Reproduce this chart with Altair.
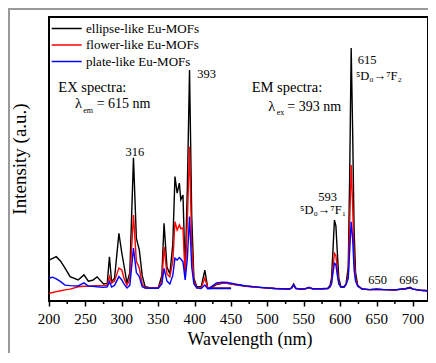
import altair as alt
import pandas as pd

FONT = "Liberation Serif"

SAMPLES = ["ellipse-like Eu-MOFs", "flower-like Eu-MOFs", "plate-like Eu-MOFs"]
COLORS = ["#000000", "#ff0000", "#0000ff"]

# Excitation spectra (lambda_em = 615 nm)
EX_NM = [200, 205, 210, 216, 222, 229, 240, 248, 254, 260,
         266, 275, 280, 283, 286, 290, 296, 300, 303, 307,
         311, 316, 320, 324, 328, 332, 340, 350, 355, 358,
         362, 366, 370, 373, 376, 379, 381, 384, 387, 390,
         393, 396, 399, 403, 409, 414, 418, 425, 435, 450]
EX_ELLIPSE = [14.4, 15.0, 15.6, 14.0, 11.6, 8.6, 7.4, 9.2, 7.0, 7.3,
              8.5, 6.0, 6.2, 15.6, 6.8, 8.0, 23.8, 16.9, 12.5, 6.3,
              10.0, 50.4, 22.0, 18.0, 9.0, 5.0, 4.6, 4.6, 9.0, 27.4,
              12.0, 9.5, 20.0, 43.8, 38.0, 41.5, 35.6, 37.3, 9.9, 40.0,
              81.3, 30.0, 8.0, 5.0, 5.0, 10.9, 4.6, 4.5, 4.5, 4.5]
EX_FLOWER = [2.7, 3.0, 3.3, 3.6, 3.9, 4.2, 5.0, 5.2, 5.2, 5.3,
             5.4, 5.4, 5.6, 8.6, 6.3, 7.0, 11.6, 10.9, 8.0, 5.6,
             7.5, 30.3, 14.0, 11.6, 6.0, 4.6, 4.6, 4.6, 7.0, 19.1,
             9.5, 8.5, 14.0, 27.9, 25.0, 26.8, 25.5, 25.7, 8.6, 28.0,
             54.3, 20.0, 7.0, 4.6, 4.6, 8.1, 4.6, 4.5, 4.5, 4.5]
EX_PLATE = [8.0, 8.4, 7.8, 6.8, 5.6, 5.4, 5.3, 6.4, 5.3, 5.2,
            5.0, 4.8, 5.0, 6.8, 4.9, 5.5, 8.6, 7.4, 6.0, 4.6,
            5.5, 18.6, 10.0, 8.6, 5.0, 4.6, 4.5, 4.5, 6.0, 11.5,
            7.0, 6.0, 9.0, 15.1, 14.4, 15.3, 14.8, 13.8, 7.4, 15.0,
            29.7, 12.0, 6.0, 4.6, 4.4, 5.6, 4.3, 4.4, 4.4, 4.4]

# Emission spectra (lambda_ex = 393 nm)
EM_NM = [420, 425, 430, 438, 445, 455, 470, 490, 510, 530,
         533, 536, 539, 545, 552, 557, 562, 575, 583, 586,
         588, 590, 592, 594, 596, 598, 601, 605, 608, 611,
         613, 615, 617, 619, 621, 624, 630, 640, 650, 660,
         675, 686, 690, 696, 700, 710, 720]
EM_ELLIPSE = [4.4, 5.0, 5.8, 6.2, 6.2, 5.8, 5.3, 4.8, 4.4, 4.2,
              4.6, 6.0, 4.5, 4.2, 4.3, 4.8, 4.3, 4.3, 4.5, 5.5,
              8.0, 18.0, 28.5, 26.5, 17.0, 8.0, 5.0, 5.0, 6.0, 12.0,
              45.0, 89.1, 60.0, 25.0, 10.0, 5.5, 4.2, 4.0, 4.2, 4.0,
              3.9, 4.3, 4.4, 4.8, 4.2, 3.8, 3.6]
EM_FLOWER = [4.6, 5.2, 6.0, 6.3, 6.2, 5.8, 5.2, 4.7, 4.4, 4.2,
             4.5, 5.6, 4.4, 4.2, 4.3, 4.7, 4.3, 4.3, 4.4, 5.0,
             6.5, 12.0, 16.8, 16.0, 11.0, 6.5, 4.8, 4.8, 5.8, 9.0,
             28.0, 47.9, 34.0, 15.0, 8.0, 5.3, 4.2, 4.0, 4.1, 4.0,
             3.9, 4.2, 4.3, 4.6, 4.2, 3.8, 3.6]
EM_PLATE = [4.5, 5.4, 6.4, 6.6, 6.5, 6.0, 5.3, 4.8, 4.4, 4.2,
            4.5, 5.6, 4.4, 4.2, 4.3, 4.7, 4.3, 4.3, 4.4, 5.0,
            6.0, 10.0, 13.3, 12.8, 9.0, 6.0, 4.8, 4.8, 5.8, 8.0,
            18.0, 27.9, 22.0, 11.0, 7.0, 5.2, 4.2, 4.0, 4.1, 4.0,
            3.9, 4.2, 4.3, 4.6, 4.2, 3.8, 3.6]

X_TICKS = [200, 250, 300, 350, 400, 450, 500, 550, 600, 650, 700]
X_MINOR = [225, 275, 325, 375, 425, 475, 525, 575, 625, 675]

# Peak labels (wavelength, intensity position, text)
PEAK_TEXT = ["316", "393", "615", "593", "650", "696",
             "\u2075D\u2080\u2192\u2077F\u2082", "\u2075D\u2080\u2192\u2077F\u2081"]
PEAK_X = [318.0, 416.6, 636.8, 582.6, 651.2, 693.8, 653.0, 576.4]
PEAK_Y = [52.5, 79.9, 84.9, 36.7, 7.4, 7.4, 79.2, 32.0]

W, H = 379, 284

rows = []
ex_sets = [EX_ELLIPSE, EX_FLOWER, EX_PLATE]
em_sets = [EM_ELLIPSE, EM_FLOWER, EM_PLATE]
for s, exv, emv in zip(SAMPLES, ex_sets, em_sets):
    for nm, v in zip(EX_NM, exv):
        rows.append({"sample": s, "part": "EX", "nm": nm, "I": v})
    for nm, v in zip(EM_NM, emv):
        rows.append({"sample": s, "part": "EM", "nm": nm, "I": v})
df = pd.DataFrame(rows)

xenc = alt.X("nm:Q",
             scale=alt.Scale(domain=[200, 720.5], nice=False, zero=False),
             axis=alt.Axis(values=X_TICKS, title=None, domain=False, grid=False, labels=False,
                           tickSize=5, tickWidth=1.5, tickColor="black"))
yenc = alt.Y("I:Q", scale=alt.Scale(domain=[0, 100], nice=False, zero=True), axis=None)

layers = []
for s, c in zip(SAMPLES, COLORS):
    layers.append(
        alt.Chart(df[df["sample"] == s]).mark_line(color=c, strokeWidth=1.4)
        .encode(x=xenc, y=yenc, detail="part:N")
    )

# minor ticks
minor_df = pd.DataFrame({"nm": X_MINOR})
layers.append(
    alt.Chart(minor_df).mark_rule(color="black", strokeWidth=1.5)
    .encode(x=xenc, y=alt.value(H), y2=alt.value(H + 3))
)

# tick labels
tick_df = pd.DataFrame({"nm": X_TICKS, "t": [str(v) for v in X_TICKS]})
layers.append(
    alt.Chart(tick_df).mark_text(font=FONT, fontSize=15, color="black", align="center",
                                 baseline="middle")
    .encode(x=xenc, y=alt.value(H + 18), text="t:N")
)

# peak labels
peak_df = pd.DataFrame({"nm": PEAK_X, "I": PEAK_Y, "t": PEAK_TEXT})
layers.append(
    alt.Chart(peak_df).mark_text(font=FONT, fontSize=12.5, color="black", align="center",
                                 baseline="middle")
    .encode(x=xenc, y=yenc, text="t:N")
)

# legend (manual)
for i, (s, c) in enumerate(zip(SAMPLES, COLORS)):
    ly = 11.5 + 16.5 * i
    layers.append(alt.Chart(pd.DataFrame({"s": [s]})).mark_rule(color=c, strokeWidth=1.5)
                  .encode(x=alt.value(2.7), x2=alt.value(32.7), y=alt.value(ly)))
    layers.append(alt.Chart(pd.DataFrame({"s": [s]})).mark_text(
        font=FONT, fontSize=13, color="black", align="left", baseline="middle")
        .encode(x=alt.value(37), y=alt.value(ly), text="s:N"))


def txt(t, x, y, size, align="left", angle=0):
    return alt.Chart(pd.DataFrame({"t": [t]})).mark_text(
        font=FONT, fontSize=size, color="black", align=align, baseline="middle", angle=angle
    ).encode(x=alt.value(x), y=alt.value(y), text="t:N")


layers += [
    txt("EX spectra:", 9.3, 70.5, 14.5),
    txt("\u03bb", 26, 87, 14.5),
    txt("em", 34.3, 94, 8),
    txt("= 615 nm", 47.7, 87, 14),
    txt("EM spectra:", 202.7, 71, 14.5),
    txt("\u03bb", 219.3, 90, 14.5),
    txt("ex", 227.7, 96, 8),
    txt("= 393 nm", 238.3, 90, 14),
    txt("Intensity (a.u.)", -29, 142, 19, align="center", angle=270),
    txt("Wavelength (nm)", 201, 323, 18, align="center"),
]

# outer gray frame
layers.append(alt.Chart(pd.DataFrame({"a": [0]})).mark_rule(color="#999999", strokeWidth=2)
              .encode(x=alt.value(-41), x2=alt.value(W), y=alt.value(-8)))
layers.append(alt.Chart(pd.DataFrame({"a": [0]})).mark_rule(color="#999999", strokeWidth=2)
              .encode(x=alt.value(-40), y=alt.value(-8), y2=alt.value(H + 70)))

chart = alt.layer(*layers).properties(
    width=W, height=H, autosize="none",
    padding={"left": 41, "top": 9, "right": 0, "bottom": 52},
).configure_view(stroke="black", strokeWidth=2).configure_text(font=FONT)

chart.save("out.html", embed_options={"renderer": "svg", "actions": False})
